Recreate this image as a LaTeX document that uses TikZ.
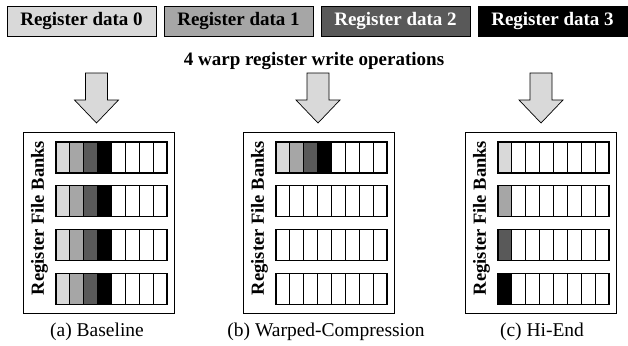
\documentclass[tikz,border=0pt]{standalone}
\usepackage{fontspec}
\setmainfont{Liberation Serif}
\definecolor{rd0}{HTML}{D9D9D9}
\definecolor{rd1}{HTML}{A6A6A6}
\definecolor{rd2}{HTML}{595959}
\definecolor{rd3}{HTML}{000000}
\definecolor{arrowgray}{HTML}{D9D9D9}
\begin{document}
\begin{tikzpicture}[x=1pt,y=-1pt,
  databox/.style={draw=black,line width=0.8pt,minimum width=149pt,minimum height=30pt,
    inner sep=0pt,font=\bfseries\fontsize{19}{19}\selectfont,text height=13pt,text depth=4pt},
  heading/.style={font=\bfseries\fontsize{19}{19}\selectfont,inner sep=0pt},
  panelbox/.style={draw=black,line width=0.9pt,minimum width=151pt,minimum height=181pt,inner sep=0pt},
  cell/.style={draw=black,line width=1.2pt,minimum width=13.875pt,minimum height=31pt,inner sep=0pt},
  banks/.style={font=\bfseries\fontsize{18.5}{18.5}\selectfont,rotate=90,inner sep=0pt},
  caption/.style={font=\fontsize{19.5}{19.5}\selectfont,inner sep=0pt},
  blockarrow/.style={draw=black,line width=0.7pt,fill=arrowgray,line join=miter}]
\useasboundingbox (0,0) rectangle (628,345);

% the four register data values
\node[databox,fill=rd0] (d0) at (81.5,21) {Register data 0};
\node[databox,fill=rd1] (d1) at (238.5,21) {Register data 1};
\node[databox,fill=rd2,text=white] (d2) at (395.5,21) {Register data 2};
\node[databox,fill=rd3,text=white] (d3) at (552.5,21) {Register data 3};
\node[heading,anchor=base] (ops) at (314,66) {4 warp register write operations};

% panel frames, side labels and captions
\foreach \p/\X/\AX/\L/\lab in {a/23/96.5/97/{(a) Baseline},
                               b/243/318/326/{(b) Warped-Compression},
                               c/465/541/542/{(c) Hi-End}}{
  \node[panelbox] (\p-box) at (\X+75.5,222.5) {};
  \node[banks] (\p-banks) at (\X+16.5,218) {Register File Banks};
  \node[caption,anchor=base] (\p-cap) at (\L,336) {\lab};
  % write arrow into the register file
  \draw[blockarrow] (\AX-11,73) -- (\AX+11,73) -- (\AX+11,100) -- (\AX+22,100)
        -- (\AX,123) -- (\AX-22,100) -- (\AX-11,100) -- cycle;
}

% (a) baseline: every bank holds all four values
\foreach \r in {0,...,3}{
  \foreach \c/\col in {0/rd0,1/rd1,2/rd2,3/rd3,4/white,5/white,6/white,7/white}{
    \node[cell,fill=\col] (a-\r-\c) at (23+33+13.875*\c+6.9375,142+43.7*\r+15.5) {};
  }
}

% (b) warped-compression: only the first bank is written
\foreach \r in {0,...,3}{
  \foreach \c/\col in {0/rd0,1/rd1,2/rd2,3/rd3,4/white,5/white,6/white,7/white}{
    \ifnum\r=0
      \node[cell,fill=\col] (b-\r-\c) at (243+33+13.875*\c+6.9375,142+43.7*\r+15.5) {};
    \else
      \node[cell,fill=white] (b-\r-\c) at (243+33+13.875*\c+6.9375,142+43.7*\r+15.5) {};
    \fi
  }
}

% (c) hi-end: one value per bank
\foreach \r in {0,...,3}{
  \foreach \c in {0,...,7}{
    \ifnum\c=0
      \node[cell,fill=rd\r] (c-\r-\c) at (465+33+13.875*\c+6.9375,142+43.7*\r+15.5) {};
    \else
      \node[cell,fill=white] (c-\r-\c) at (465+33+13.875*\c+6.9375,142+43.7*\r+15.5) {};
    \fi
  }
}
\end{tikzpicture}
\end{document}
